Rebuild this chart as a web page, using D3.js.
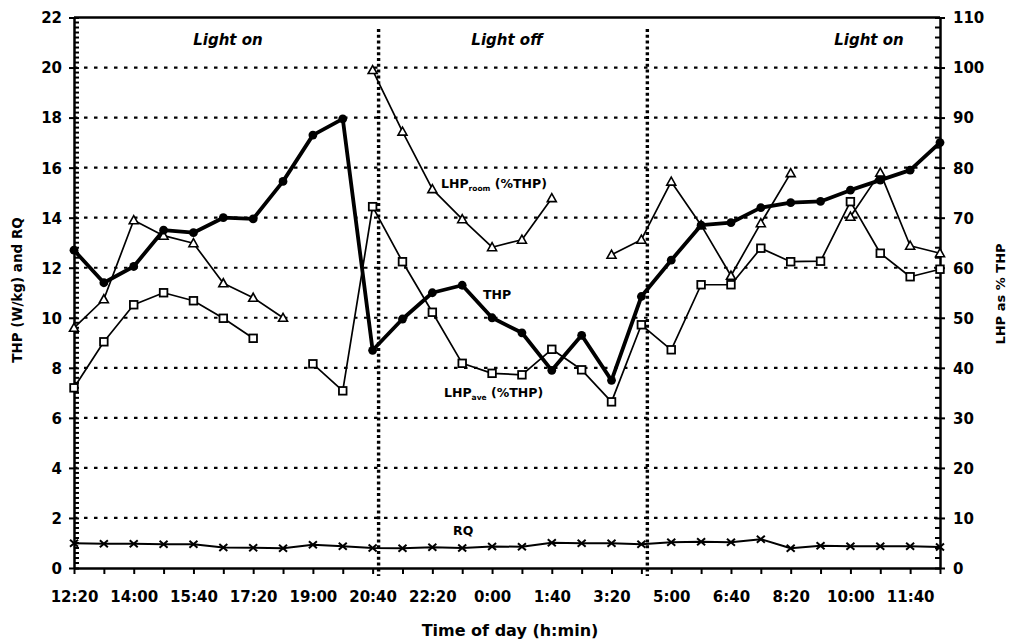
<!DOCTYPE html>
<html><head><meta charset="utf-8">
<script src="https://cdn.jsdelivr.net/npm/d3@7"></script>
<style>
body{margin:0;background:#fff}
svg{display:block}
text{font-family:"DejaVu Sans",sans-serif;font-weight:bold;fill:#000}
</style>
</head><body><svg id="c" width="1009" height="642"></svg>
<script>
// ---- data ----
const timeLabels = ["12:20","13:10","14:00","14:50","15:40","16:30","17:20","18:10","19:00","19:50",
  "20:40","21:30","22:20","23:10","0:00","0:50","1:40","2:30","3:20","4:10",
  "5:00","5:50","6:40","7:30","8:20","9:10","10:00","10:50","11:40","12:30"];
// THP (W/kg), left axis
const thp = [12.7, 11.4, 12.05, 13.5, 13.4, 14.0, 13.95, 15.45, 17.3, 17.95,
  8.7, 9.95, 11.0, 11.3, 10.0, 9.4, 7.9, 9.3, 7.5, 10.85,
  12.3, 13.7, 13.8, 14.4, 14.6, 14.65, 15.1, 15.5, 15.9, 17.0];
// LHP_room (%THP), right axis
const lhpRoom = [48, 53.7, 69.5, 66.4, 64.9, 56.9, 54, 50, null, null,
  99.5, 87.2, 75.7, 69.7, 64.1, 65.6, 73.9, null, 62.6, 65.6,
  77.2, 68.5, 58.4, 68.9, 78.9, null, 70.2, 79, 64.4, 62.9];
// LHP_ave (%THP), right axis
const lhpAve = [36, 45.2, 52.6, 55, 53.4, 49.9, 45.9, null, 40.8, 35.4,
  72.2, 61.2, 51.1, 40.9, 38.9, 38.6, 43.7, 39.6, 33.2, 48.6,
  43.6, 56.6, 56.6, 63.9, 61.2, 61.3, 73.2, 62.9, 58.2, 59.7];
// RQ, left axis
const rq = [0.99, 0.97, 0.97, 0.95, 0.95, 0.82, 0.81, 0.79, 0.93, 0.87,
  0.80, 0.79, 0.83, 0.80, 0.86, 0.85, 1.01, 0.99, 0.99, 0.95,
  1.03, 1.05, 1.03, 1.15, 0.79, 0.89, 0.87, 0.87, 0.87, 0.84];
const leftTicks = [0,2,4,6,8,10,12,14,16,18,20,22];
const rightTicks = [0,10,20,30,40,50,60,70,80,90,100,110];
const lightSwitch = [10.2, 19.2]; // light off / light on (index units)
const periodLabels = ["Light on", "Light off", "Light on"];

// ---- layout ----
const L = 74, R = 940, T = 17.5, B = 568;
const svg = d3.select("#c");
const x = d3.scaleLinear().domain([0, 29]).range([L, R]);
const yL = d3.scaleLinear().domain([0, 22]).range([B, T]);
const yR = d3.scaleLinear().domain([0, 110]).range([B, T]);

// gridlines
svg.append("g").selectAll("line").data(leftTicks.filter(d => d > 0 && d < 22)).join("line")
  .attr("x1", L).attr("x2", R).attr("y1", d => yL(d)).attr("y2", d => yL(d))
  .attr("stroke", "#000").attr("stroke-width", 2.2).attr("stroke-dasharray", "3.5,6.5");

// light switch lines
svg.append("g").selectAll("line").data(lightSwitch).join("line")
  .attr("x1", d => x(d)).attr("x2", d => x(d)).attr("y1", 29).attr("y2", 576)
  .attr("stroke", "#000").attr("stroke-width", 3.4).attr("stroke-dasharray", "3,2.8");

// frame top
svg.append("line").attr("x1", L).attr("x2", R).attr("y1", T).attr("y2", T)
  .attr("stroke", "#000").attr("stroke-width", 2.5);

// minor ticks
const minorL = d3.range(0, 111).map(i => i / 5).filter(v => Math.abs(v / 2 - Math.round(v / 2)) > 1e-6);
svg.append("g").selectAll("line").data(minorL).join("line")
  .attr("x1", L).attr("x2", L + 5).attr("y1", d => yL(d)).attr("y2", d => yL(d))
  .attr("stroke", "#000").attr("stroke-width", 2);
const minorR = d3.range(0, 111, 2).filter(v => v % 10 !== 0);
svg.append("g").selectAll("line").data(minorR).join("line")
  .attr("x1", R - 5).attr("x2", R).attr("y1", d => yR(d)).attr("y2", d => yR(d))
  .attr("stroke", "#000").attr("stroke-width", 2);

// axes
const ax = svg.append("g").attr("transform", `translate(0,${B})`)
  .call(d3.axisBottom(x).tickValues(d3.range(30)).tickSizeInner(6).tickSizeOuter(0).tickPadding(17)
    .tickFormat(i => i % 2 ? "" : timeLabels[i]));
const al = svg.append("g").attr("transform", `translate(${L},0)`)
  .call(d3.axisLeft(yL).tickValues(leftTicks).tickSizeInner(4).tickSizeOuter(0).tickPadding(8));
const ar = svg.append("g").attr("transform", `translate(${R},0)`)
  .call(d3.axisRight(yR).tickValues(rightTicks).tickSizeInner(4).tickSizeOuter(0).tickPadding(9));
[ax, al, ar].forEach(g => {
  g.select(".domain").attr("stroke", "#000").attr("stroke-width", 2.5);
  g.selectAll(".tick line").attr("stroke", "#000").attr("stroke-width", 2);
  g.selectAll("text").attr("font-size", 15).attr("font-family", "'DejaVu Sans',sans-serif").attr("font-weight", "bold");
});
al.selectAll(".tick line").attr("x1", 5).attr("x2", -5);
ar.selectAll(".tick line").attr("x1", -5).attr("x2", 5);
al.selectAll(".tick text").attr("dy", "0.36em");
ar.selectAll(".tick text").attr("dy", "0.36em");

// series
const idx = d3.range(30);
function drawLine(vals, ys, w) {
  svg.append("path").datum(idx)
    .attr("d", d3.line().defined(i => vals[i] != null).x(i => x(i)).y(i => ys(vals[i])))
    .attr("fill", "none").attr("stroke", "#000").attr("stroke-width", w).attr("stroke-linejoin", "round");
}
drawLine(rq, yL, 2);
drawLine(lhpAve, yR, 1.7);
drawLine(lhpRoom, yR, 1.7);
drawLine(thp, yL, 3.8);

// markers
const pts = v => idx.filter(i => v[i] != null);
svg.append("g").selectAll("path").data(pts(rq)).join("path")
  .attr("transform", i => `translate(${x(i)},${yL(rq[i])})`)
  .attr("d", "M-4,-3.5L4,3.5M-4,3.5L4,-3.5").attr("stroke", "#000").attr("stroke-width", 2).attr("fill", "none");
svg.append("g").selectAll("rect").data(pts(lhpAve)).join("rect")
  .attr("x", i => x(i) - 3.8).attr("y", i => yR(lhpAve[i]) - 3.8).attr("width", 7.6).attr("height", 7.6)
  .attr("fill", "#fff").attr("stroke", "#000").attr("stroke-width", 1.8);
svg.append("g").selectAll("path").data(pts(lhpRoom)).join("path")
  .attr("transform", i => `translate(${x(i)},${yR(lhpRoom[i])})`)
  .attr("d", "M0,-4.5L4.5,3.5L-4.5,3.5Z").attr("fill", "#fff").attr("stroke", "#000").attr("stroke-width", 1.6);
svg.append("g").selectAll("circle").data(pts(thp)).join("circle")
  .attr("cx", i => x(i)).attr("cy", i => yL(thp[i])).attr("r", 4.4).attr("fill", "#000");

// period labels
const periodX = [228, 507, 869];
svg.append("g").selectAll("text").data(periodLabels).join("text")
  .attr("x", (d, i) => periodX[i]).attr("y", 45).attr("text-anchor", "middle")
  .attr("font-size", 15).attr("font-style", "italic").text(d => d);

// series annotations
function label(xp, yp, main, sub, rest) {
  const t = svg.append("text").attr("x", xp).attr("y", yp).attr("font-size", 12.5);
  t.append("tspan").text(main);
  if (sub) {
    t.append("tspan").attr("font-size", 7.5).attr("dy", 3).text(sub);
    t.append("tspan").attr("dy", -3).text(rest);
  }
}
label(441, 188, "LHP", "room", " (%THP)");
label(483, 299, "THP");
label(444, 397, "LHP", "ave", " (%THP)");
label(453, 535, "RQ");

// axis titles
svg.append("text").attr("transform", "translate(22,290) rotate(-90)").attr("text-anchor", "middle")
  .attr("font-size", 13.5).text("THP (W/kg) and RQ");
svg.append("text").attr("transform", "translate(1005,294) rotate(-90)").attr("text-anchor", "middle")
  .attr("font-size", 13).text("LHP as % THP");
svg.append("text").attr("x", 510).attr("y", 636).attr("text-anchor", "middle")
  .attr("font-size", 16).text("Time of day (h:min)");
</script>
</body></html>
